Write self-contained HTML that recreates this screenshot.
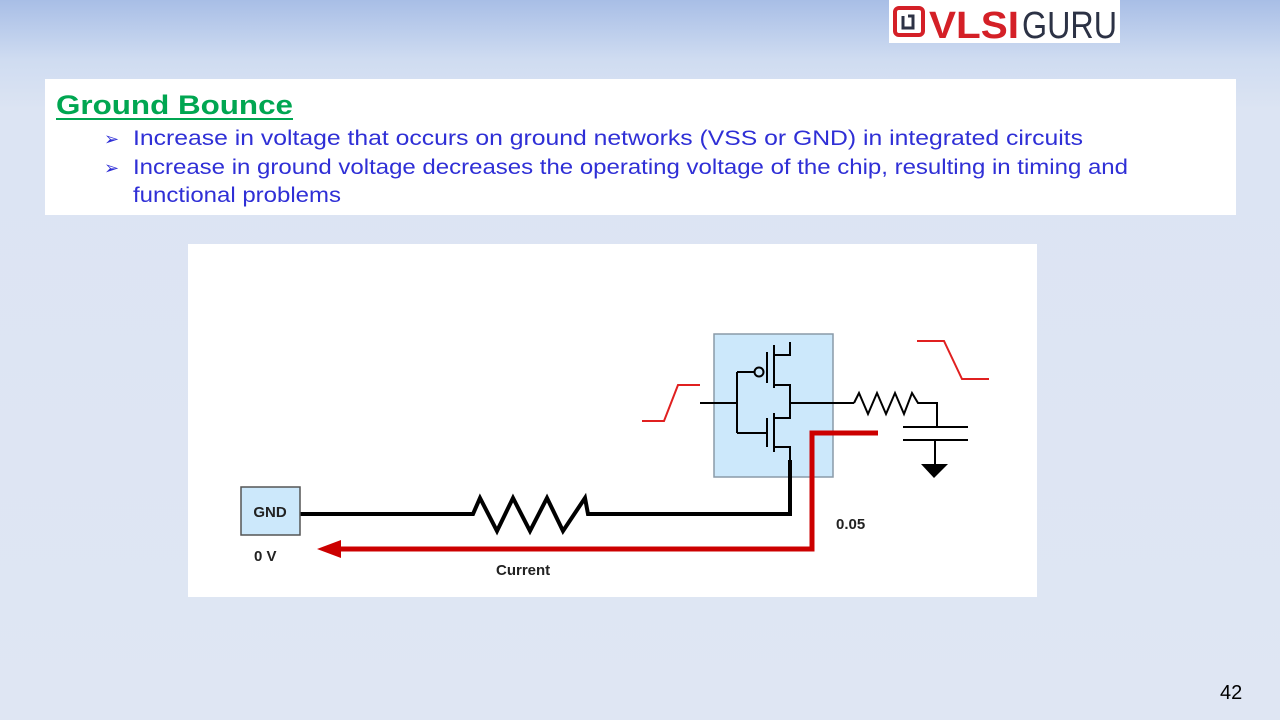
<!DOCTYPE html>
<html><head><meta charset="utf-8"><style>
body{margin:0;width:1280px;height:720px;overflow:hidden;font-family:"Liberation Sans",sans-serif;
background:linear-gradient(to bottom,#a8bee6 0px,#cfdcf1 60px,#dce4f3 110px,#dfe6f3 720px);position:relative}
.logo{position:absolute;left:889px;top:0;width:231px;height:43px;background:#fff}
.box{position:absolute;left:45px;top:79px;width:1191px;height:136px;background:#fff}
.num{position:absolute;left:1220px;top:682px;font-size:20px;color:#000}
</style></head><body>
<div class="logo"><svg width="231" height="43">
<rect x="6" y="8" width="28" height="27" rx="4" fill="none" stroke="#d42027" stroke-width="4"/>
<path d="M14 16 v12 h10 v-12 h-5" fill="none" stroke="#2c3245" stroke-width="3"/>
<text x="40" y="38" font-family="Liberation Sans" font-weight="bold" font-size="38" fill="#d42027" textLength="90" lengthAdjust="spacingAndGlyphs">VLSI</text>
<text x="133" y="38" font-family="Liberation Sans" font-size="38" fill="#2c3245" textLength="95" lengthAdjust="spacingAndGlyphs">GURU</text>
</svg></div>
<div class="box"></div>
<svg style="position:absolute;left:0;top:0" width="1280" height="720">
<text x="56" y="114" font-size="27" font-weight="bold" fill="#00a651" textLength="237" lengthAdjust="spacingAndGlyphs">Ground Bounce</text>
<line x1="56" y1="119" x2="293" y2="119" stroke="#00a651" stroke-width="2"/>
<text x="104" y="145" font-size="18" fill="#2f2fd6">➢</text>
<text x="104" y="174" font-size="18" fill="#2f2fd6">➢</text>
<text x="133" y="145" font-size="21" fill="#2f2fd6" textLength="950" lengthAdjust="spacingAndGlyphs">Increase in voltage that occurs on ground networks (VSS or GND) in integrated circuits</text>
<text x="133" y="174" font-size="21" fill="#2f2fd6" textLength="995" lengthAdjust="spacingAndGlyphs">Increase in ground voltage decreases the operating voltage of the chip, resulting in timing and</text>
<text x="133" y="202" font-size="21" fill="#2f2fd6" textLength="208" lengthAdjust="spacingAndGlyphs">functional problems</text>

<rect x="188" y="244" width="849" height="353" fill="#fff"/>
<rect x="714" y="334" width="119" height="143" fill="#cce8fb" stroke="#8a9aa8" stroke-width="1.5"/>
<g fill="none" stroke="#000" stroke-width="2">
<path d="M700 403 H737 M737 372 V433 M737 372 H754 M737 433 H767"/>
<circle cx="759" cy="372" r="4.5"/>
<path d="M767 352 V383 M774 345 V388 M774 355 H790 V342 M774 385 H790 V403 H854"/>
<path d="M767 418 V447 M774 413 V452 M774 418 H790 V403 M774 447 H790 V462"/>
<path d="M854 403 L859 393 L868 414 L877 393 L886 414 L895 393 L904 414 L912 393 L918 403 H937 V427 M903 427 H968 M903 440 H968 M935 440 V465"/>
</g>
<path d="M921 464 H948 L934 478 Z" fill="#000"/>
<g fill="none" stroke="#000" stroke-width="4">
<path d="M790 460 V514 H588 L585 498 L563 531 L547 498 L530 531 L513 498 L497 531 L480 498 L473 514 H300"/>
</g>
<rect x="241" y="487" width="59" height="48" fill="#cce8fb" stroke="#555" stroke-width="1.5"/>
<text x="270" y="517" text-anchor="middle" font-weight="bold" font-size="15" fill="#222">GND</text>
<text x="254" y="561" font-weight="bold" font-size="15" fill="#222">0 V</text>
<text x="496" y="575" font-weight="bold" font-size="15" fill="#222">Current</text>
<text x="836" y="529" font-weight="bold" font-size="15" fill="#222">0.05</text>
<path d="M878 433 H812 V549 H336" fill="none" stroke="#cc0000" stroke-width="5"/>
<path d="M317 549 L341 540 L341 558 Z" fill="#cc0000"/>
<path d="M642 421 H664 L678 385 H700 M917 341 H944 L962 379 H989" fill="none" stroke="#e02020" stroke-width="2"/>
</svg>
<div class="num">42</div>
</body></html>
